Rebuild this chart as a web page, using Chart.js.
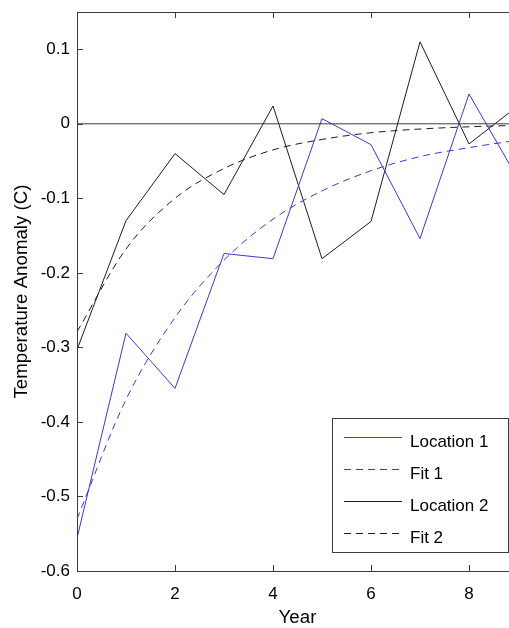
<!DOCTYPE html>
<html>
<head>
<meta charset="utf-8">
<script src="https://cdn.jsdelivr.net/npm/chart.js@4.4.0/dist/chart.umd.min.js"></script>
<style>
  html, body { margin:0; padding:0; background:#fff; overflow:hidden; }
  #wrap { width:530px; height:628px; }
</style>
</head>
<body>
<div id="wrap"><canvas id="chartAnomaly"></canvas></div>
<script>
// ============= DATA =============
const years = [0, 1, 2, 3, 4, 5, 6, 7, 8, 9];
const location1 = [-0.556, -0.281, -0.355, -0.174, -0.181, 0.007, -0.028, -0.154, 0.040, -0.074];
const fit1      = [-0.530, -0.370, -0.260, -0.183, -0.128, -0.090, -0.063, -0.044, -0.032, -0.022];
const location2 = [-0.303, -0.130, -0.040, -0.095, 0.024, -0.181, -0.131, 0.110, -0.027, 0.024];
const fit2      = [-0.279, -0.168, -0.100, -0.060, -0.035, -0.021, -0.012, -0.007, -0.004, -0.002];

const xTicks = [0, 2, 4, 6, 8];
const yTicks = [-0.6, -0.5, -0.4, -0.3, -0.2, -0.1, 0, 0.1];
const yTickLabels = ['-0.6', '-0.5', '-0.4', '-0.3', '-0.2', '-0.1', '0', '0.1'];
const xRange = [0, 9];
const yRange = [-0.6, 0.15];

const BLUE = '#3838d8';
const BLACK = '#1c1c1c';
const AXIS = '#3c3c3c';
const FONT = 'Arial, "Liberation Sans", Helvetica, sans-serif';
const DASH = [7, 5];

const pts = (ys) => years.map((x, i) => ({ x, y: ys[i] }));

// ============= OVERLAY: frame, inward ticks, titles, legend =============
const overlay = {
  id: 'overlay',
  afterDraw(chart) {
    const { ctx, chartArea: a, scales: { x, y } } = chart;
    ctx.save();
    ctx.strokeStyle = AXIS;
    ctx.lineWidth = 1;

    // box frame
    ctx.beginPath();
    ctx.moveTo(a.left + 0.5, a.top + 0.5);
    ctx.lineTo(a.right + 0.5, a.top + 0.5);
    ctx.lineTo(a.right + 0.5, a.bottom + 0.5);
    ctx.lineTo(a.left + 0.5, a.bottom + 0.5);
    ctx.closePath();
    ctx.stroke();

    // inward ticks
    const tl = 6;
    ctx.beginPath();
    xTicks.forEach(v => {
      const px = Math.round(x.getPixelForValue(v)) + 0.5;
      ctx.moveTo(px, a.bottom); ctx.lineTo(px, a.bottom - tl);
      ctx.moveTo(px, a.top); ctx.lineTo(px, a.top + tl);
    });
    yTicks.forEach(v => {
      const py = Math.round(y.getPixelForValue(v)) + 0.5;
      ctx.moveTo(a.left, py); ctx.lineTo(a.left + tl, py);
      ctx.moveTo(a.right, py); ctx.lineTo(a.right - tl, py);
    });
    ctx.stroke();

    // axis titles
    ctx.fillStyle = '#000';
    ctx.font = '18.7px ' + FONT;
    ctx.textAlign = 'center';
    ctx.textBaseline = 'middle';
    ctx.fillText('Year', (a.left + a.right) / 2, 618);
    ctx.save();
    ctx.translate(22, (a.top + a.bottom) / 2);
    ctx.rotate(-Math.PI / 2);
    ctx.fillText('Temperature Anomaly (C)', 0, 0);
    ctx.restore();

    // legend (south-east, inside axes)
    const bx = 332, by = 418, bw = 176, bh = 134;
    ctx.fillStyle = '#fff';
    ctx.fillRect(bx, by, bw, bh);
    ctx.strokeStyle = AXIS;
    ctx.strokeRect(bx + 0.5, by + 0.5, bw, bh);
    ctx.font = '17px ' + FONT;
    ctx.textAlign = 'left';
    const entries = chart.data.datasets.filter(d => d.legendLabel);
    entries.forEach((d, row) => {
      const ly = 437 + row * 32 + 0.5;
      ctx.beginPath();
      ctx.setLineDash(d.legendDash);
      ctx.lineWidth = 1;
      ctx.strokeStyle = d.legendColor;
      ctx.moveTo(344, ly);
      ctx.lineTo(402, ly);
      ctx.stroke();
      ctx.setLineDash([]);
      ctx.fillStyle = '#000';
      ctx.fillText(d.legendLabel, 410, ly + 5);
    });
    ctx.restore();
  }
};

// ============= CHART =============
new Chart(document.getElementById('chartAnomaly'), {
  type: 'line',
  data: {
    datasets: [
      {
        data: [{ x: xRange[0], y: 0 }, { x: xRange[1], y: 0 }],
        borderColor: AXIS, borderWidth: 1, pointRadius: 0
      },
      {
        legendLabel: 'Location 1', legendColor: BLUE, legendDash: [],
        data: pts(location1),
        borderColor: BLUE, borderWidth: 1, pointRadius: 0, tension: 0
      },
      {
        legendLabel: 'Fit 1', legendColor: BLUE, legendDash: DASH,
        data: pts(fit1),
        borderColor: BLUE, borderWidth: 1, borderDash: DASH, pointRadius: 0,
        cubicInterpolationMode: 'monotone'
      },
      {
        legendLabel: 'Location 2', legendColor: BLACK, legendDash: [],
        data: pts(location2),
        borderColor: BLACK, borderWidth: 1, pointRadius: 0, tension: 0
      },
      {
        legendLabel: 'Fit 2', legendColor: BLACK, legendDash: DASH,
        data: pts(fit2),
        borderColor: BLACK, borderWidth: 1, borderDash: DASH, pointRadius: 0,
        cubicInterpolationMode: 'monotone'
      }
    ]
  },
  options: {
    responsive: true,
    maintainAspectRatio: false,
    animation: false,
    events: [],
    layout: { padding: { top: 12, right: 12, left: 0, bottom: 0 } },
    plugins: { legend: { display: false }, tooltip: { enabled: false } },
    scales: {
      x: {
        type: 'linear', min: xRange[0], max: xRange[1],
        afterBuildTicks: s => { s.ticks = xTicks.map(v => ({ value: v })); },
        afterFit: s => { s.height = 57; s.paddingLeft = 0; s.paddingRight = 0; },
        grid: { display: false, drawTicks: false },
        border: { display: false },
        ticks: { color: '#000', padding: 13, font: { size: 17, family: FONT }, maxRotation: 0 }
      },
      y: {
        type: 'linear', min: yRange[0], max: yRange[1],
        afterBuildTicks: s => { s.ticks = yTicks.map(v => ({ value: v })); },
        afterFit: s => { s.width = 77; s.paddingTop = 0; s.paddingBottom = 0; },
        grid: { display: false, drawTicks: false },
        border: { display: false },
        ticks: {
          color: '#000', padding: 7, font: { size: 17, family: FONT },
          callback: v => yTickLabels[yTicks.findIndex(t => Math.abs(t - v) < 1e-9)]
        }
      }
    }
  },
  plugins: [overlay]
});
</script>
</body>
</html>
